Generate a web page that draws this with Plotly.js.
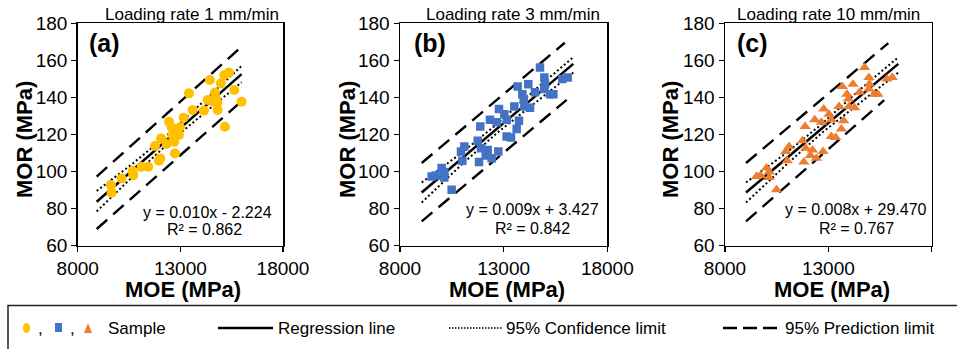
<!DOCTYPE html>
<html><head><meta charset="utf-8">
<script src="https://cdn.plot.ly/plotly-3.0.1.min.js"></script>
<style>html,body{margin:0;padding:0;background:#fff}#chart{width:957px;height:349px}</style>
</head><body><div id="chart"></div>
<script>
// ---------- data ----------
const titles = ["Loading rate 1 mm/min", "Loading rate 3 mm/min", "Loading rate 10 mm/min"];
const panelLabels = ["(a)", "(b)", "(c)"];
const equations = ["y = 0.010x - 2.224", "y = 0.009x + 3.427", "y = 0.008x + 29.470"];
const r2Labels = ["R² = 0.862", "R² = 0.842", "R² = 0.767"];
const xTicks = [8000, 13000, 18000];

// Panel (a) samples
const moeA = [9621, 9653, 10140, 10676, 10708, 11114, 11439, 11958, 12023, 11763, 12055, 12331, 12445, 12575, 12770, 12980, 12932, 12607, 12705, 12737, 13159, 13419, 13597, 14149, 14328, 14441, 14685, 14717, 14604, 14815, 14815, 14977, 15139, 15366, 15172, 15626, 15983];
const morA = [92.7, 88.6, 96.3, 100.3, 98.1, 102.6, 102.6, 105.9, 107.1, 113.8, 117.9, 114.9, 126.9, 123.9, 122.4, 123.9, 119.7, 119.7, 116.1, 109.8, 129.1, 142.2, 133.2, 132.9, 138.6, 149.4, 142.6, 140.0, 137.7, 137.2, 133.2, 147.6, 152.1, 153.4, 124.2, 144.0, 137.7];
// Panel (b) samples
const moeB = [9527, 9720, 10010, 10138, 10138, 10492, 10942, 11103, 11007, 11747, 11875, 11811, 11907, 12229, 12132, 12422, 12341, 12743, 12663, 12775, 13033, 13145, 13145, 13354, 13515, 13740, 13628, 13676, 13901, 13966, 13998, 14271, 14190, 14512, 14753, 14962, 14994, 14962, 15236, 15397, 15831, 16088];
const morB = [97.4, 97.9, 101.9, 99.7, 96.8, 90.2, 110.8, 113.5, 105.8, 116.6, 124.3, 105.1, 112.6, 111.7, 108.7, 107.2, 127.9, 110.8, 126.6, 133.8, 130.9, 127.9, 118.9, 118.4, 135.1, 127.4, 123.0, 145.9, 141.7, 139.2, 135.1, 134.5, 147.1, 142.8, 156.1, 150.7, 147.1, 144.6, 141.7, 141.7, 150.0, 150.7];
// Panel (c) samples
const moeC = [9527, 9720, 10010, 10138, 10138, 10492, 10942, 11103, 11007, 11747, 11875, 11811, 11907, 12229, 12132, 12422, 12341, 12743, 12663, 12775, 13033, 13145, 13145, 13354, 13515, 13740, 13628, 13676, 13901, 13966, 13998, 14271, 14190, 14512, 14753, 14962, 14994, 14962, 15236, 15397, 15831, 16088];
const morC = [97.4, 97.9, 101.9, 99.7, 96.8, 90.2, 110.8, 113.5, 105.8, 116.6, 124.3, 105.1, 112.6, 111.7, 108.7, 107.2, 127.9, 110.8, 126.6, 133.8, 130.9, 127.9, 118.9, 118.4, 135.1, 127.4, 123.0, 145.9, 141.7, 139.2, 135.1, 134.5, 147.1, 142.8, 156.1, 150.7, 147.1, 144.6, 141.7, 141.7, 150.0, 150.7];

// Regression, confidence and prediction lines
const regXA = [8925, 15985], regYA = [83.7, 152.6];
const ciXA = [8925, 10700, 12500, 14300, 15985];
const ciUpA = [89.5, 104.5, 121.0, 139.5, 157.0];
const ciLoA = [78.5, 97.5, 116.2, 132.9, 148.2];
const piUpXA = [8925, 15985], piUpA = [97.3, 167.4];
const piLoXA = [8925, 15985], piLoA = [69.0, 138.0];

const regXB = [9046, 16360], regYB = [88.7, 158.1];
const ciXB = [9046, 10900, 12700, 14500, 16360];
const ciUpB = [94.1, 109.5, 125.8, 144.0, 161.7];
const ciLoB = [83.3, 103.0, 121.0, 137.0, 153.4];
const piUpXB = [9046, 15950], piUpB = [104.6, 169.5];
const piLoXB = [9046, 16040], piLoB = [73.1, 138.7];

const regXC = [9016, 16384], regYC = [88.7, 158.1];
const ciXC = [9016, 10900, 12700, 14500, 16384];
const ciUpC = [94.1, 109.5, 125.8, 144.0, 161.7];
const ciLoC = [83.3, 103.0, 121.0, 137.0, 153.4];
const piUpXC = [9016, 15900], piUpC = [104.6, 169.3];
const piLoXC = [9016, 15700], piLoC = [73.1, 138.5];

const legendLabels = ["Sample", "Regression line", "95% Confidence limit", "95% Prediction limit"];

// ---------- styling ----------
const W = 957, H = 349;
const FONT = "Liberation Sans, Arial, sans-serif";
const colors = ["#FFC000", "#4472C4", "#ED7D31"];
const symbols = ["circle", "square", "triangle-up"];
const msize = [10, 8.5, 10];
const px = v => v / W, py = v => 1 - v / H;

const panels = [
  {moe: moeA, mor: morA, regX: regXA, regY: regYA, ciX: ciXA, ciUp: ciUpA, ciLo: ciLoA, piUpX: piUpXA, piUp: piUpA, piLoX: piLoXA, piLo: piLoA},
  {moe: moeB, mor: morB, regX: regXB, regY: regYB, ciX: ciXB, ciUp: ciUpB, ciLo: ciLoB, piUpX: piUpXB, piUp: piUpB, piLoX: piLoXB, piLo: piLoB},
  {moe: moeC, mor: morC, regX: regXC, regY: regYC, ciX: ciXC, ciUp: ciUpC, ciLo: ciLoC, piUpX: piUpXC, piUp: piUpC, piLoX: piLoXC, piLo: piLoC}
];
// plot-area pixel boxes [left, right]
const boxX = [[77.7, 283], [400, 607.3], [725, 931.7]];
const boxTop = 23.3, boxBottom = 245.7;
const titleX = [192, 513, 828.5];
const labelX = [104, 430, 752];
const eqX = [207, 532, 856], eqY = [212, 209, 209], r2X = [204, 532, 856.5], r2Y = [229, 228, 228];
const yTitleX = [24, 347, 670];
const xTitleX = [182.5, 507, 832];

const traces = [];
const layout = {
  width: W, height: H,
  margin: {l: 0, r: 0, t: 0, b: 0},
  paper_bgcolor: "#fff", plot_bgcolor: "#fff",
  showlegend: false,
  font: {family: FONT, color: "#000"},
  annotations: [], shapes: []
};

panels.forEach((p, i) => {
  const xa = i === 0 ? "x" : "x" + (i + 1), ya = i === 0 ? "y" : "y" + (i + 1);
  const lineTr = (x, y, dash, w) => ({x, y, xaxis: xa, yaxis: ya, mode: "lines", type: "scatter",
    line: {color: "#000", width: w, dash}, hoverinfo: "skip"});
  traces.push(lineTr(p.piUpX, p.piUp, "14px,8px", 2.4));
  traces.push(lineTr(p.piLoX, p.piLo, "14px,8px", 2.4));
  traces.push(lineTr(p.ciX, p.ciUp, "2px,2.5px", 2));
  traces.push(lineTr(p.ciX, p.ciLo, "2px,2.5px", 2));
  traces.push(lineTr(p.regX, p.regY, "solid", 2.5));
  traces.push({x: p.moe, y: p.mor, xaxis: xa, yaxis: ya, mode: "markers", type: "scatter",
    marker: {color: colors[i], symbol: symbols[i], size: msize[i], line: {width: 0}}});

  const axCommon = {showline: true, linecolor: "#000", linewidth: 1.5, mirror: true,
    ticks: "outside", ticklen: 5, tickwidth: 1.5, tickcolor: "#000", showgrid: false, zeroline: false,
    tickfont: {family: FONT, size: 19, color: "#000"}, fixedrange: true};
  layout["xaxis" + (i === 0 ? "" : i + 1)] = Object.assign({}, axCommon, {
    domain: [px(boxX[i][0]), px(boxX[i][1])], range: [8000, 18000],
    tickmode: "array", tickvals: xTicks, ticktext: xTicks.map(String), anchor: ya});
  layout["yaxis" + (i === 0 ? "" : i + 1)] = Object.assign({}, axCommon, {
    domain: [py(boxBottom), py(boxTop)], range: [60, 180], dtick: 20, tick0: 60, anchor: xa});

  const ann = (x, y, text, size, bold, extra) => Object.assign({xref: "paper", yref: "paper",
    x: px(x), y: py(y), text: bold ? "<b>" + text + "</b>" : text, showarrow: false,
    xanchor: "center", yanchor: "middle", font: {family: FONT, size, color: "#000"}}, extra || {});
  layout.annotations.push(ann(titleX[i], 14, titles[i], 17, false));
  layout.annotations.push(ann(labelX[i], 43, panelLabels[i], 25, true));
  layout.annotations.push(ann(eqX[i], eqY[i], equations[i], 16, false));
  layout.annotations.push(ann(r2X[i], r2Y[i], r2Labels[i], 16, false));
  layout.annotations.push(ann(yTitleX[i], 140, "MOR (MPa)", 22, true, {textangle: -90}));
  layout.annotations.push(ann(xTitleX[i], 289, "MOE (MPa)", 22, true));
});

// ---------- bottom legend box ----------
const shp = (o) => Object.assign({xref: "paper", yref: "paper"}, o);
layout.shapes.push(shp({type: "rect", x0: px(8), x1: px(962), y0: py(305.5), y1: py(355),
  line: {color: "#222", width: 1.5}, fillcolor: "rgba(0,0,0,0)"}));
const LY = 328;
layout.shapes.push(shp({type: "circle", x0: px(23), x1: px(30), y0: py(333), y1: py(323),
  fillcolor: colors[0], line: {width: 0}}));
layout.shapes.push(shp({type: "rect", x0: px(55), x1: px(62), y0: py(332), y1: py(323),
  fillcolor: colors[1], line: {width: 0}}));
layout.shapes.push(shp({type: "path", path: `M ${px(84)} ${py(333)} L ${px(92)} ${py(333)} L ${px(88)} ${py(323)} Z`,
  fillcolor: colors[2], line: {width: 0}}));
layout.shapes.push(shp({type: "line", x0: px(218), x1: px(273), y0: py(LY), y1: py(LY), line: {color: "#000", width: 2.5}}));
layout.shapes.push(shp({type: "line", x0: px(449), x1: px(502), y0: py(LY), y1: py(LY), line: {color: "#000", width: 1.5, dash: "1.5px,1.5px"}}));
layout.shapes.push(shp({type: "line", x0: px(723), x1: px(780), y0: py(LY), y1: py(LY), line: {color: "#000", width: 2.5, dash: "14px,6px"}}));
const legAnn = (x, text) => ({xref: "paper", yref: "paper", x: px(x), y: py(LY), text, showarrow: false,
  xanchor: "left", yanchor: "middle", font: {family: FONT, size: 17, color: "#000"}});
layout.annotations.push(legAnn(36, ","));
layout.annotations.push(legAnn(68, ","));
layout.annotations.push(legAnn(106, legendLabels[0]));
layout.annotations.push(legAnn(276, legendLabels[1]));
layout.annotations.push(legAnn(504, legendLabels[2]));
layout.annotations.push(legAnn(783, legendLabels[3]));

Plotly.newPlot("chart", traces, layout, {staticPlot: true, displayModeBar: false});
</script></body></html>
